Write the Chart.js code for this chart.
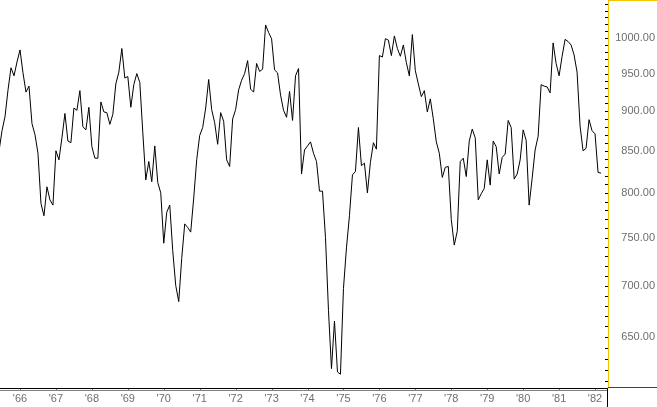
<!DOCTYPE html>
<html>
<head>
<meta charset="utf-8">
<script src="https://cdn.jsdelivr.net/npm/chart.js@4"></script>
<style>
  html, body { margin: 0; padding: 0; background: #fff; }
</style>
</head>
<body>
<canvas id="ctx" width="657" height="407"></canvas>
<script>
// month-end closes, Jun 1965 .. Mar 1982
const firstMonth = 1965 + 5 / 12
const closes = [
  850, 875, 893, 928, 958, 947, 966,                         // 1965 Jun-Dec
  983, 951, 925, 933, 884, 870, 847, 788, 774, 807, 792, 786, // 1966
  850, 839, 866, 897, 862, 860, 904, 901, 927, 880, 876, 905, // 1967
  855, 841, 841, 912, 899, 898, 883, 896, 936, 952, 985, 944, // 1968
  946, 905, 935, 950, 938, 873, 815, 837, 813, 856, 812, 800, // 1969
  744, 778, 786, 736, 700, 684, 728, 765, 761, 756, 794, 839, // 1970
  869, 879, 904, 942, 902, 885, 858, 898, 887, 839, 831, 890, // 1971
  902, 928, 941, 950, 968, 929, 925, 964, 953, 956, 1019, 1008, // 1972
  999, 955, 951, 921, 901, 892, 926, 888, 947, 957, 822, 851, // 1973
  856, 861, 847, 837, 802, 802, 750, 675, 621, 665, 618, 616, // 1974
  697, 739, 774, 821, 825, 879, 832, 835, 800, 836, 860, 852, // 1975
  975, 973, 999, 997, 975, 1003, 985, 974, 990, 965, 947, 1005, // 1976
  954, 936, 919, 927, 899, 916, 890, 861, 847, 818, 830, 831, // 1977
  770, 742, 757, 837, 841, 819, 862, 877, 866, 792, 799, 805, // 1978
  839, 809, 862, 855, 822, 842, 846, 888, 879, 816, 822, 839, // 1979
  876, 863, 786, 817, 851, 868, 935, 933, 932, 924, 993, 964, // 1980
  947, 974, 998, 995, 990, 976, 952, 881, 850, 853, 889, 875, // 1981
  871, 824, 823                                              // 1982 Jan-Mar
]

const tickYears = [1966, 1967, 1968, 1969, 1970, 1971, 1972, 1973, 1974,
  1975, 1976, 1977, 1978, 1979, 1980, 1981, 1982]
const yearLabels = ["'66", "'67", "'68", "'69", "'70", "'71", "'72", "'73", "'74",
  "'75", "'76", "'77", "'78", "'79", "'80", "'81", "'82"]
const priceTicks = [650, 700, 750, 800, 850, 900, 950, 1000]
const minorStep = 10

const points = closes.map((v, i) => ({x: firstMonth + i / 12, y: v}))

const frame = {
  id: 'frame',
  afterDraw: (chart) => {
    const {ctx} = chart
    const {left, top, right, bottom} = chart.chartArea
    const w = chart.width, h = chart.height
    const ys = chart.scales.y, xs = chart.scales.x

    ctx.save()
    ctx.lineWidth = 1

    // small ticks along the price axis
    ctx.strokeStyle = '#000'
    ctx.beginPath()
    for (let v = 610; v <= 1050; v += minorStep) {
      const py = Math.round(ys.getPixelForValue(v)) + 0.5
      ctx.moveTo(right - 3, py)
      ctx.lineTo(right, py)
    }
    ctx.stroke()

    // panel lines
    ctx.strokeStyle = '#f5c400'
    ctx.beginPath()
    ctx.moveTo(right + 0.5, 0)
    ctx.lineTo(right + 0.5, bottom - 1)
    ctx.moveTo(right, 0.5)
    ctx.lineTo(w, 0.5)
    ctx.stroke()

    ctx.strokeStyle = '#2040a0'
    ctx.beginPath()
    ctx.moveTo(right, bottom - 0.5)
    ctx.lineTo(w, bottom - 0.5)
    ctx.stroke()

    ctx.strokeStyle = '#000'
    ctx.beginPath()
    ctx.moveTo(left, bottom + 0.5)
    ctx.lineTo(right, bottom + 0.5)
    ctx.moveTo(right - 0.5, bottom)
    ctx.lineTo(right - 0.5, h)
    ctx.stroke()

    ctx.strokeStyle = '#808080'
    ctx.beginPath()
    ctx.moveTo(left, bottom + 2.5)
    ctx.lineTo(right - 1, bottom + 2.5)
    tickYears.forEach(yr => {
      const px = Math.round(xs.getPixelForValue(yr)) + 0.5
      ctx.moveTo(px, bottom + 1)
      ctx.lineTo(px, bottom + 3)
    })
    ctx.stroke()

    ctx.restore()
  }
}

const chart = new Chart(document.getElementById('ctx'), {
  type: 'line',
  data: {
    datasets: [{
      data: points,
      borderColor: '#000',
      borderWidth: 1,
      pointRadius: 0,
      tension: 0,
      fill: false
    }]
  },
  options: {
    responsive: false,
    animation: false,
    events: [],
    layout: {padding: {right: 2}},
    plugins: {legend: {display: false}, tooltip: {enabled: false}},
    scales: {
      x: {
        type: 'linear',
        min: 1966 - 20 / 35.94,
        max: 1966 - 20 / 35.94 + 608 / 35.94,
        grid: {display: false, drawTicks: false},
        border: {display: false},
        afterBuildTicks: (scale) => {
          scale.ticks = tickYears.map(v => ({value: v}))
        },
        afterFit: (scale) => {
          scale.height = 19
          scale.paddingLeft = 0
          scale.paddingRight = 0
        },
        ticks: {
          autoSkip: false,
          maxRotation: 0,
          padding: 4,
          color: '#6e6e6e',
          font: {family: 'Liberation Sans', size: 11},
          callback: (v) => yearLabels[tickYears.indexOf(v)]
        }
      },
      y: {
        type: 'logarithmic',
        position: 'right',
        min: 603.9,
        max: 1056.3,
        grid: {display: false, drawTicks: false},
        border: {display: false},
        afterBuildTicks: (scale) => {
          scale.ticks = priceTicks.map(v => ({value: v}))
        },
        afterFit: (scale) => {
          scale.width = 47
          scale.paddingTop = 0
          scale.paddingBottom = 0
        },
        ticks: {
          crossAlign: 'far',
          padding: 7,
          color: '#6e6e6e',
          font: {family: 'Liberation Sans', size: 11},
          callback: (v) => Number(v).toFixed(2)
        }
      }
    }
  },
  plugins: [frame]
})
</script>
</body>
</html>
